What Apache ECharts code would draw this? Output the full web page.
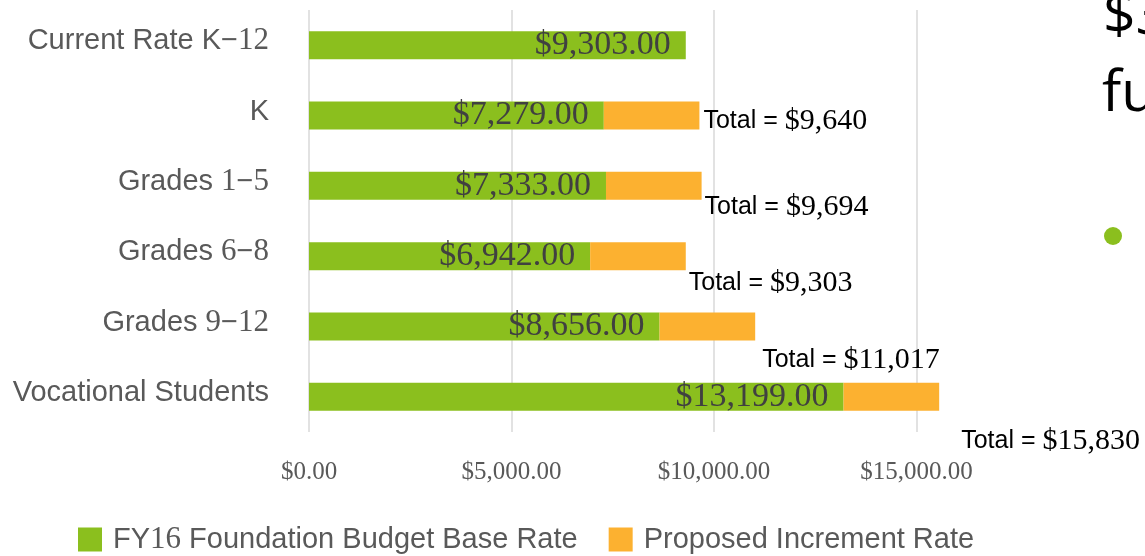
<!DOCTYPE html>
<html lang="en">
<head>
    <meta charset="UTF-8">
    <title>Foundation Budget Rates</title>
    <script src="https://cdn.jsdelivr.net/npm/echarts@6/dist/echarts.min.js"></script>
    <style>
        html, body { margin: 0; padding: 0; background: #fff; }
        #main { width: 1145px; height: 556px; }
    </style>
</head>
<body>
    <div id="main"></div>
    <script>
        var categories = ['Current Rate K\u221212', 'K', 'Grades 1\u22125', 'Grades 6\u22128', 'Grades 9\u221212', 'Vocational Students'];
        var baseRate = [9303, 7279, 7333, 6942, 8656, 13199];
        var increment = [0, 2361, 2361, 2361, 2361, 2361];
        var totalText = ['', '$9,640', '$9,694', '$9,303', '$11,017', '$15,830'];
        var seriesNames = ['FY16 Foundation Budget Base Rate', 'Proposed Increment Rate'];
        var xTicks = [0, 5000, 10000, 15000];

        var SANS = 'Liberation Sans, Arial, sans-serif';
        var SERIF = 'Liberation Serif, Times New Roman, serif';

        // the total labels sit a bit off the bar ends, like in the slide
        var labelNudges = [[0, 0], [4, 6], [3, 21], [3, 27], [7, 34], [22, 44]];

        function money(v) {
            return '$' + v.toLocaleString('en-US', { minimumFractionDigits: 2, maximumFractionDigits: 2 });
        }

        // digits are drawn in serif, the rest in sans
        function mixed(text) {
            return text.split(/(\d+)/).filter(function (p) { return p !== ''; }).map(function (p) {
                return /^\d+$/.test(p) ? '{n|' + p + '}' : '{s|' + p + '}';
            }).join('');
        }

        var chart = echarts.init(document.getElementById('main'));

        var option = {
            animation: false,
            backgroundColor: '#fff',
            grid: { left: 309, right: 26, top: 10, bottom: 124 },
            legend: {
                left: 78,
                top: 524,
                padding: 0,
                itemWidth: 24,
                itemHeight: 24,
                itemGap: 31,
                icon: 'rect',
                data: seriesNames,
                formatter: function (name) { return mixed(name); },
                textStyle: {
                    padding: [0, 0, 0, 6],
                    rich: {
                        s: { fontFamily: SANS, fontSize: 29, color: '#595959' },
                        n: { fontFamily: SERIF, fontSize: 31, color: '#595959' }
                    }
                }
            },
            xAxis: {
                type: 'value',
                min: 0,
                max: 20000,
                interval: 5000,
                axisLine: { show: false },
                axisTick: { show: false },
                splitLine: { show: true, showMaxLine: false, lineStyle: { color: '#d9d9d9', width: 1.5 } },
                axisLabel: {
                    margin: 28,
                    showMaxLabel: false,
                    fontFamily: SERIF,
                    fontSize: 25,
                    color: '#595959',
                    formatter: function (v) { return xTicks.indexOf(v) >= 0 ? money(v) : ''; }
                }
            },
            yAxis: {
                type: 'category',
                inverse: true,
                data: categories,
                axisLine: { show: false },
                axisTick: { show: false },
                axisLabel: {
                    margin: 40,
                    padding: [0, 0, 8, 0],
                    formatter: function (v) { return mixed(v); },
                    rich: {
                        s: { fontFamily: SANS, fontSize: 29, color: '#595959' },
                        n: { fontFamily: SERIF, fontSize: 31, color: '#595959' }
                    }
                }
            },
            series: [
                {
                    name: seriesNames[0],
                    type: 'bar',
                    stack: 'rate',
                    barWidth: 28,
                    itemStyle: { color: '#8bbf1e' },
                    label: {
                        show: true,
                        position: 'insideRight',
                        distance: 15,
                        fontFamily: SERIF,
                        fontSize: 34,
                        color: '#404040',
                        formatter: function (p) { return money(p.value); }
                    },
                    data: baseRate
                },
                {
                    name: seriesNames[1],
                    type: 'bar',
                    stack: 'rate',
                    barWidth: 28,
                    itemStyle: { color: '#fcb130' },
                    data: increment.map(function (v, i) {
                        return {
                            value: v,
                            label: {
                                show: totalText[i] !== '',
                                position: 'right',
                                distance: 0,
                                offset: labelNudges[i],
                                formatter: '{a|Total = }{b|' + totalText[i] + '}',
                                rich: {
                                    a: { fontFamily: SANS, fontSize: 25, color: '#000' },
                                    b: { fontFamily: SERIF, fontSize: 30, color: '#000' }
                                }
                            }
                        };
                    })
                }
            ],
            graphic: [
                { type: 'text', left: 1103, top: -11, style: { text: '$3', font: '57px "Open Sans"', fill: '#000' } },
                { type: 'text', left: 1102, top: 66, style: { text: 'fu', font: '57px "Open Sans"', fill: '#000' } },
                { type: 'circle', shape: { cx: 1113, cy: 236, r: 9 }, style: { fill: '#8bbf1e' } }
            ]
        };

        chart.setOption(option);
    </script>
</body>
</html>
